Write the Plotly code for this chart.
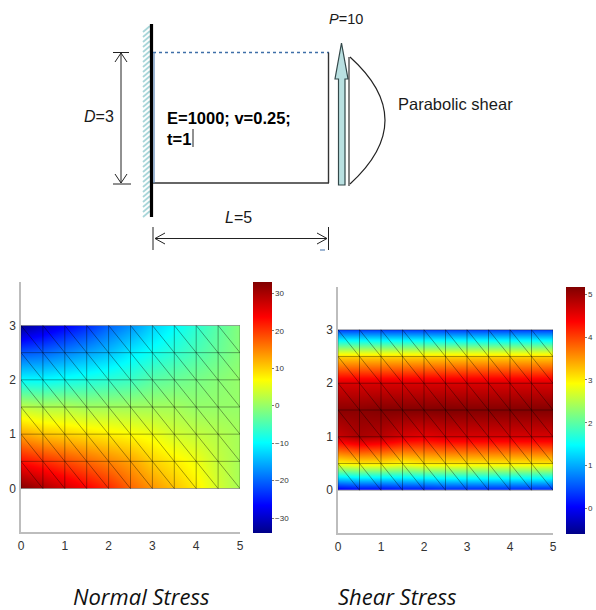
import plotly.graph_objects as go

W, H = 596, 610

# ---- chart data ----
node_x = [0, 0.5, 1, 1.5, 2, 2.5, 3, 3.5, 4, 4.5, 5]
node_y = [0, 0.5, 1, 1.5, 2, 2.5, 3]
axis_ticks_x = [0, 1, 2, 3, 4, 5]
axis_ticks_y = [0, 1, 2, 3]

normal_row_y0 = [33, 30, 27, 24, 21, 17, 14, 11, 8, 4, 1]
normal_row_y05 = [23, 21, 19, 17, 15, 13, 10, 8, 6, 3, 1]
normal_row_y1 = [13, 11, 10, 9, 8, 7, 6, 4, 3, 2, 1]
normal_row_y15 = [3, 2, 2, 1, 1, 1, 1, 1, 0, 0, 0]
normal_row_y2 = [-10, -10, -9, -8, -7, -6, -4, -3, -2, -1, 0]
normal_row_y25 = [-21, -20, -18, -16, -14, -11, -9, -7, -5, -3, -1]
normal_row_y3 = [-33, -30, -27, -24, -20, -17, -13, -10, -7, -4, -1]
normal_stress = [normal_row_y0, normal_row_y05, normal_row_y1, normal_row_y15,
                 normal_row_y2, normal_row_y25, normal_row_y3]

shear_row_y0 = [-0.1, 0.0, 0.0, 0.1, 0.1, 0.2, 0.2, 0.2, 0.2, 0.2, 0.2]
shear_row_y05 = [2.9, 3.0, 3.0, 2.9, 3.0, 3.0, 3.0, 3.0, 3.0, 3.0, 3.0]
shear_row_y1 = [4.7, 4.9, 4.8, 4.6, 4.5, 4.6, 4.6, 4.6, 4.6, 4.6, 4.6]
shear_row_y15 = [5.1, 5.1, 5.15, 5.15, 5.15, 5.17, 5.15, 5.15, 5.15, 5.15, 5.15]
shear_row_y2 = [4.6, 4.6, 4.6, 4.6, 4.6, 4.6, 4.6, 4.6, 4.6, 4.6, 4.6]
shear_row_y25 = [3.2, 3.2, 3.2, 3.2, 3.2, 3.2, 3.2, 3.2, 3.2, 3.2, 3.2]
shear_row_y3 = [0.4, 0.4, 0.4, 0.4, 0.4, 0.4, 0.4, 0.4, 0.4, 0.4, 0.4]
shear_stress = [shear_row_y0, shear_row_y05, shear_row_y1, shear_row_y15,
                shear_row_y2, shear_row_y25, shear_row_y3]

normal_cbar_ticks = [-30, -20, -10, 0, 10, 20, 30]
shear_cbar_ticks = [0, 1, 2, 3, 4, 5]

# ---- styling ----
JET = [[0, "rgb(0,0,135)"], [0.11, "rgb(0,0,255)"], [0.36, "rgb(0,255,255)"],
       [0.61, "rgb(255,255,0)"], [0.86, "rgb(255,0,0)"], [1, "rgb(128,0,0)"]]
SANS = "Liberation Sans"
TICK = "#333333"
AXIS = "#bdbdbd"
MESH = "rgba(0,0,0,0.36)"


def fx(px):
    return px / W


def fy(px):
    return 1 - px / H


def mesh_coords():
    xs, ys = [], []
    for y in node_y:
        xs += [node_x[0], node_x[-1], None]
        ys += [y, y, None]
    for x in node_x:
        xs += [x, x, None]
        ys += [node_y[0], node_y[-1], None]
    for i in range(len(node_x) - 1):
        for j in range(len(node_y) - 1):
            xs += [node_x[i], node_x[i + 1], None]
            ys += [node_y[j + 1], node_y[j], None]
    return xs, ys


fig = go.Figure()
mx, my = mesh_coords()


def add_panel(z, zmin, zmax, ticks, xa, ya, cb_left, cb_top, cb_bottom):
    fig.add_trace(go.Contour(
        x=node_x, y=node_y, z=z, xaxis=xa, yaxis=ya,
        contours=dict(coloring="heatmap", showlines=False),
        line=dict(width=0), connectgaps=False,
        zmin=zmin, zmax=zmax, colorscale=JET, hoverinfo="skip",
        colorbar=dict(
            x=fx(cb_left), xanchor="left", xpad=0, ypad=0,
            y=fy(cb_bottom), yanchor="bottom",
            len=(cb_bottom - cb_top) / H, lenmode="fraction",
            thickness=19, thicknessmode="pixels", outlinewidth=0,
            tickvals=ticks, ticks="outside", ticklen=2, tickcolor="#777",
            tickfont=dict(family=SANS, size=8, color=TICK),
        ),
    ))
    fig.add_trace(go.Scatter(
        x=mx, y=my, xaxis=xa, yaxis=ya, mode="lines",
        line=dict(color=MESH, width=1), hoverinfo="skip", showlegend=False,
    ))


add_panel(normal_stress, -34, 33, normal_cbar_ticks, "x", "y", 253, 282, 533)
add_panel(shear_stress, -0.6, 5.17, shear_cbar_ticks, "x2", "y2", 566, 287, 534)


def panel_axes(left, right, top, bottom, anchor):
    xa = dict(domain=[fx(left), fx(right)], range=[0, 5], tickvals=axis_ticks_x,
              showgrid=False, zeroline=False, showline=True, linecolor=AXIS,
              linewidth=1.5, ticks="outside", ticklen=2, tickcolor="rgba(0,0,0,0)",
              tickfont=dict(family=SANS, size=12, color=TICK), anchor=anchor[1])
    ya = dict(domain=[fy(bottom), fy(top)], range=[-0.8, 3.8], tickvals=axis_ticks_y,
              showgrid=False, zeroline=False, showline=True, linecolor=AXIS,
              linewidth=1.5, ticks="outside", ticklen=1, tickcolor="rgba(0,0,0,0)",
              tickfont=dict(family=SANS, size=12, color=TICK), anchor=anchor[0])
    return xa, ya


xa1, ya1 = panel_axes(21, 240, 282, 532, ("x", "y"))
xa2, ya2 = panel_axes(338, 553, 287, 533, ("x2", "y2"))

# ---- schematic drawn on a page-sized hidden axis pair ----
sk = dict(xref="x3", yref="y3", layer="above")
DARK = "#222222"
TEAL = "#a9d6d9"
shapes = []


def line(x0, y0, x1, y1, color=DARK, width=1, dash="solid"):
    shapes.append(dict(type="line", x0=x0, y0=y0, x1=x1, y1=y1,
                       line=dict(color=color, width=width, dash=dash), **sk))


def path(d, color=DARK, width=1, fill=None):
    s = dict(type="path", path=d, line=dict(color=color, width=width), **sk)
    if fill:
        s["fillcolor"] = fill
    shapes.append(s)


# hatching behind the wall
for y in range(26, 214, 5):
    line(143, y + 6, 150, y, color=TEAL, width=1.8)
line(151.5, 24, 151.5, 217, color="#000000", width=3.2)

# beam outline
line(153, 52.5, 329, 52.5, color="#3f6fa8", width=1.4, dash="dot")
line(153, 183, 329, 183, color="#333333", width=1.5)
line(328.5, 52.5, 328.5, 183, color="#333333", width=1.4)
line(154, 52.5, 154, 183, color="#5f86b5", width=1.2)

# D dimension
line(113, 52.5, 129, 52.5)
line(113, 184, 131, 184)
line(121, 53, 121, 183)
path("M115,62 L121,53 L127,62")
path("M115,174 L121,183 L127,174")

# L dimension
line(153, 227, 153, 250)
line(328.5, 227, 328.5, 250)
line(155, 238.5, 327, 238.5)
path("M165,233 L155,238.5 L165,244")
path("M317,233 L327,238.5 L317,244")
line(320, 250, 325, 250, color="#3f6fa8", width=1)

# point load arrow
path("M338.5,185 L338.5,79 L335,79 L341.5,43 L348,79 L345,79 L345,185 Z",
     color="#33484a", width=1.2, fill="#b9e0e1")

# parabolic shear profile
line(349, 57, 349, 186, color="#333333", width=1.2)
path("M350,57 Q420,120 350,184", color="#222222", width=1.2)

# text caret
line(193, 129, 193, 147, color="#222222", width=1)


def note(x, y, text, size=14, family=SANS, color="#1a1a1a", anchor="left"):
    return dict(xref="x3", yref="y3", x=x, y=y, text=text, showarrow=False,
                xanchor=anchor, yanchor="middle", align="left", xshift=-2,
                font=dict(family=family, size=size, color=color))


annotations = [
    note(329, 19, "<i>P</i>=10", size=14.5),
    note(84, 116, "<i>D</i>=3", size=16),
    note(225, 217, "<i>L</i>=5", size=16),
    note(398, 104, "Parabolic shear", size=16.5),
    note(167, 118, "<b>E=1000; v=0.25;</b>", size=16.5, color="#000000"),
    note(167, 139, "<b>t=1</b>", size=16.5, color="#000000"),
    note(73, 596, "<i>Normal Stress</i>", size=22, family="Open Sans", color="#111111"),
    note(338, 596, "<i>Shear Stress</i>", size=22, family="Open Sans", color="#111111"),
]

# anchor trace that keeps the hidden page axis pair alive
fig.add_trace(go.Scatter(x=[0, W], y=[H, 0], xaxis="x3", yaxis="y3", mode="markers",
                         marker=dict(opacity=0, size=1), hoverinfo="skip", showlegend=False))

fig.update_layout(
    width=W, height=H, autosize=False,
    margin=dict(l=0, r=0, t=0, b=0, pad=0, autoexpand=False),
    paper_bgcolor="white", plot_bgcolor="rgba(0,0,0,0)", showlegend=False,
    xaxis=xa1, yaxis=ya1, xaxis2=xa2, yaxis2=ya2,
    xaxis3=dict(domain=[0, 1], range=[0, W], visible=False, anchor="y3", fixedrange=True),
    yaxis3=dict(domain=[0, 1], range=[H, 0], visible=False, anchor="x3", fixedrange=True),
    shapes=shapes, annotations=annotations,
)

fig.write_html("out.html", config=dict(displayModeBar=False),
               post_script="document.body.style.margin='0';document.body.style.overflow='hidden';")
